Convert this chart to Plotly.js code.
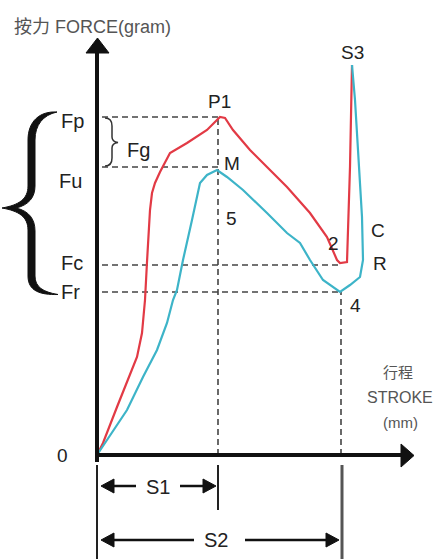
<!DOCTYPE html>
<html><head><meta charset="utf-8">
<script src="https://cdn.plot.ly/plotly-3.0.1.min.js"></script>
<style>html,body{margin:0;padding:0;background:#fff;overflow:hidden}</style>
</head><body><div id="chart" style="width:435px;height:559px"></div>
<script>
// ---- data (stroke along x, force along y; origin = 0) ----
const pressStroke = [0, 6, 20, 31, 40, 45, 48, 50, 51, 53, 55, 58, 63, 73, 90, 110, 123, 128, 136, 153, 170, 190, 213, 230, 240, 243, 250, 251, 253, 255];
const pressForce  = [0, 12, 48, 75, 98, 122, 155, 193, 215, 245, 262, 272, 283, 302, 312, 325, 338, 337, 325, 305, 288, 268, 242, 218, 195, 192, 193, 222, 288, 390];
const releaseStroke = [0, 10, 30, 46, 60, 70, 76, 80, 86, 95, 103, 110, 120, 130, 146, 170, 190, 203, 213, 226, 243, 253, 263, 266, 265, 261, 258, 255];
const releaseForce  = [0, 15, 45, 78, 105, 132, 155, 165, 195, 235, 272, 280, 285, 278, 265, 242, 222, 212, 195, 175, 163, 170, 178, 195, 238, 305, 355, 390];

const forceLevelNames = ['Fp', 'Fu', 'Fc', 'Fr'];
const forceLevels     = [338, 288, 190, 163];
const levelStrokeRef  = ['S1', 'S1', 'S2', 'S2'];
const strokeMarkNames = ['S1', 'S2'];
const strokeMarks     = [121, 244];

const axisTitleY = '按力 FORCE(gram)';
const axisTitleX = ['行程', 'STROKE', '(mm)'];
const pointLabels = ['P1', 'M', '5', '2', '4', 'S3', 'C', 'R', 'Fg', '0'];

// ---- layout helpers (picture pixel -> chart units) ----
const OX = 97, OY = 455;
const dx = px => px - OX, dy = py => OY - py;
function path(cmds) {
  return cmds.map(c => {
    let s = c[0];
    const nums = c.slice(1);
    const parts = [];
    for (let i = 0; i < nums.length; i += 2) parts.push(dx(nums[i]) + ',' + dy(nums[i + 1]));
    return s + parts.join(' ');
  }).join(' ') ;
}
const FONT = 'Liberation Sans, Arial, Noto Sans CJK SC, sans-serif';
const BLACK = '#111';

const traces = [
  { x: pressStroke, y: pressForce, mode: 'lines', line: { color: '#e23a45', width: 2.2 }, hoverinfo: 'skip' },
  { x: releaseStroke, y: releaseForce, mode: 'lines', line: { color: '#3db4c8', width: 2.2 }, hoverinfo: 'skip' }
];

const shapes = [];
const dash = { color: '#444', width: 1.6, dash: '6px,4px' };
// horizontal reference levels
forceLevels.forEach((v, i) => {
  const xEnd = strokeMarks[strokeMarkNames.indexOf(levelStrokeRef[i])];
  shapes.push({ type: 'line', xref: 'x', yref: 'y', x0: 5, x1: xEnd, y0: v, y1: v, line: dash, layer: 'below' });
});
// vertical reference strokes
shapes.push({ type: 'line', x0: strokeMarks[0], x1: strokeMarks[0], y0: 0, y1: forceLevels[0], line: dash, layer: 'below' });
shapes.push({ type: 'line', x0: strokeMarks[1], x1: strokeMarks[1], y0: 0, y1: forceLevels[3], line: dash, layer: 'below' });

// axes with arrowheads
shapes.push({ type: 'line', x0: 0, x1: 0, y0: -7, y1: dy(52), line: { color: BLACK, width: 4 } });
shapes.push({ type: 'path', path: path([['M', 86, 53], ['L', 97.5, 38], ['L', 109, 53], ['Z']]), fillcolor: BLACK, line: { color: BLACK, width: 1 } });
shapes.push({ type: 'line', x0: -2, x1: dx(402), y0: 0, y1: 0, line: { color: BLACK, width: 4 } });
shapes.push({ type: 'path', path: path([['M', 401, 444], ['L', 414, 455.5], ['L', 401, 467], ['Z']]), fillcolor: BLACK, line: { color: BLACK, width: 1 } });

// big left brace (tapered, filled)
shapes.push({ type: 'path', path: path([
  ['M', 57, 112], ['C', 40, 111, 28, 121, 28, 140], ['L', 28, 186], ['C', 28, 199, 19, 205, 2, 208],
  ['C', 19, 211, 28, 217, 28, 230], ['L', 28, 276], ['C', 28, 291, 40, 295, 58, 294.5],
  ['C', 43, 292, 35, 287, 35, 276], ['L', 35, 231], ['C', 35, 219, 29, 211, 16, 208],
  ['C', 29, 205, 35, 197, 35, 186], ['L', 35, 140], ['C', 35, 125, 43, 115, 57, 112], ['Z']]),
  fillcolor: BLACK, line: { color: BLACK, width: 1 } });
// small Fg brace
shapes.push({ type: 'path', path: path([['M', 105, 118], ['C', 110, 118, 112, 121, 112, 126], ['L', 112, 137], ['C', 112, 140, 114, 142, 118, 142.5], ['C', 114, 143, 112, 145, 112, 148], ['L', 112, 158], ['C', 112, 163, 110, 166, 105, 166]]), line: { color: '#333', width: 1.5 } });

// bottom dimension lines
const tick = { color: '#222', width: 2 };
shapes.push({ type: 'line', x0: 0, x1: 0, y0: dy(465), y1: dy(559), line: tick });
shapes.push({ type: 'line', x0: strokeMarks[0], x1: strokeMarks[0], y0: dy(465), y1: dy(510), line: tick });
shapes.push({ type: 'line', x0: strokeMarks[1] + 1, x1: strokeMarks[1] + 1, y0: dy(465), y1: dy(559), line: { color: '#555', width: 3 } });
const dimLine = { color: BLACK, width: 2.5 };
// S1
shapes.push({ type: 'line', x0: dx(112), x1: dx(136), y0: dy(486), y1: dy(486), line: dimLine });
shapes.push({ type: 'line', x0: dx(180), x1: dx(205), y0: dy(486), y1: dy(486), line: dimLine });
// S2
shapes.push({ type: 'line', x0: dx(112), x1: dx(194), y0: dy(540), y1: dy(540), line: dimLine });
shapes.push({ type: 'line', x0: dx(245), x1: dx(330), y0: dy(540), y1: dy(540), line: dimLine });
function head(tipX, tipY, dir) {
  const b = tipX - dir * 13;
  return { type: 'path', path: path([['M', b, tipY - 7], ['L', tipX, tipY], ['L', b, tipY + 7], ['Z']]), fillcolor: BLACK, line: { color: BLACK, width: 1 } };
}
shapes.push(head(101, 486, -1));
shapes.push(head(216, 486, 1));
shapes.push(head(101, 540, -1));
shapes.push(head(339, 540, 1));

// ---- text ----
const ann = [];
function label(text, px, py, size, color, anchor) {
  ann.push({ text: text, x: dx(px), y: dy(py), xref: 'x', yref: 'y', showarrow: false,
    xanchor: anchor || 'center', yanchor: 'middle', font: { family: FONT, size: size, color: color || '#222' } });
}
label(axisTitleY, 12, 27, 18, '#555', 'left');
label(axisTitleX[0], 398, 372, 15, '#555');
label(axisTitleX[1], 400, 397, 16, '#555');
label(axisTitleX[2], 400, 422, 15, '#555');

const levelLabelPos = [[72, 121], [70, 181], [72, 263], [70, 292]];
forceLevelNames.forEach((n, i) => label(n, levelLabelPos[i][0], levelLabelPos[i][1], 20, '#222'));
const strokeLabelPos = [[158, 487], [216, 540]];
strokeMarkNames.forEach((n, i) => label(n, strokeLabelPos[i][0], strokeLabelPos[i][1], 20, '#222'));
const pointLabelPos = [[219, 101], [232, 163], [231, 218], [333, 243], [355, 305], [352, 52], [378, 230], [380, 263], [138, 150], [62, 455]];
pointLabels.forEach((n, i) => label(n, pointLabelPos[i][0], pointLabelPos[i][1], n === 'Fg' ? 20 : 19, '#222'));

const layout = {
  width: 435, height: 559, autosize: false,
  margin: { l: 0, r: 0, t: 0, b: 0, pad: 0 },
  paper_bgcolor: '#fff', plot_bgcolor: '#fff', showlegend: false,
  xaxis: { range: [-OX, 435 - OX], visible: false, fixedrange: true },
  yaxis: { range: [OY - 559, OY], visible: false, fixedrange: true },
  shapes: shapes, annotations: ann
};
Plotly.newPlot('chart', traces, layout, { staticPlot: true, displayModeBar: false });
</script></body></html>
